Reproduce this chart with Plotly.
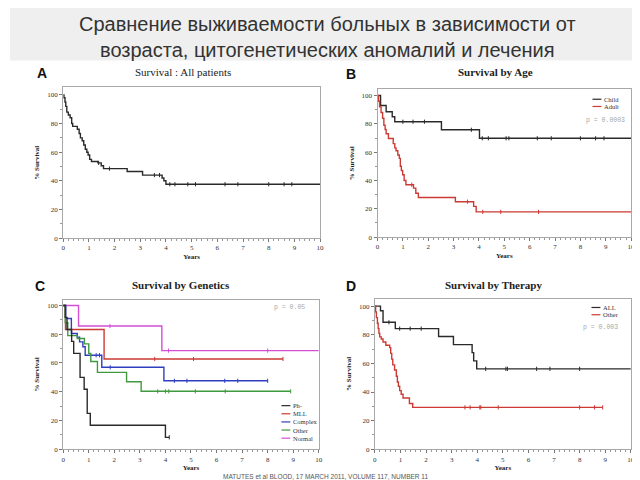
import plotly.graph_objects as go

# ---------------- data ----------------
A_t = [0, 0.03, 0.07, 0.1, 0.14, 0.2, 0.27, 0.33, 0.37, 0.55, 0.62, 0.67, 0.74, 0.8, 0.86, 0.92, 0.97, 1.03, 1.1, 1.35, 1.48, 1.57, 2.49, 3.09, 3.85, 3.92, 4.0, 10]
A_s = [100, 98, 95, 92, 88, 86, 84, 80, 78, 76, 73, 70, 68, 65, 62, 60, 58, 55, 53.5, 52.5, 50.5, 48.5, 46.5, 44, 42, 40, 37.6, 37.6]
A_cens = [1.38, 1.8, 3.55, 3.75, 4.15, 4.35, 4.85, 5.15, 6.3, 6.8, 8.0, 8.6, 8.9]

B_child_t = [0, 0.12, 0.34, 0.58, 0.68, 2.52, 4.02, 10]
B_child_s = [100, 93, 88.5, 85, 81.5, 75.8, 69.8, 69.8]
B_child_cens = [1.0, 1.4, 1.85, 3.7, 4.13, 4.37, 5.07, 5.18, 6.3, 6.85, 8.0, 8.6, 8.93]
B_adult_t = [0, 0.04, 0.08, 0.14, 0.2, 0.25, 0.3, 0.34, 0.43, 0.62, 0.68, 0.73, 0.8, 0.86, 0.9, 0.94, 0.99, 1.05, 1.12, 1.42, 1.51, 1.61, 3.07, 3.79, 3.89, 10]
B_adult_s = [100, 96, 92, 88, 84, 79, 76, 73, 69.6, 66, 63, 61, 58, 55.6, 50, 47, 44, 40, 37, 34.6, 31, 28, 25, 21.7, 17.8, 17.8]
B_adult_cens = [1.35, 3.55, 4.15, 4.86, 6.35]

C_ph_t = [0, 0.08, 0.15, 0.33, 0.41, 0.66, 0.82, 0.94, 1.06, 4.0, 4.15]
C_ph_s = [100, 91.7, 83.3, 75, 66.7, 50, 41.7, 25, 16.7, 8.3, 8.3]
C_ph_cens = [4.15]
C_mll_t = [0, 0.09, 1.6, 8.6]
C_mll_s = [100, 83.3, 62.8, 62.8]
C_mll_cens = [3.58, 5.1, 8.6]
C_cx_t = [0, 0.1, 0.32, 0.55, 0.64, 0.77, 0.86, 1.51, 3.94, 8.0]
C_cx_s = [100, 90.9, 80.5, 78, 74.7, 71.3, 65.4, 57, 47.6, 47.6]
C_cx_cens = [1.29, 1.42, 1.84, 4.35, 4.84, 6.32, 6.83, 8.0]
C_ot_t = [0, 0.08, 0.18, 0.55, 0.83, 1.0, 1.08, 1.34, 2.48, 3.05, 8.9]
C_ot_s = [100, 88, 79, 77, 73.3, 66.7, 61, 53.5, 47, 40.3, 40.3]
C_ot_cens = [3.7, 4.0, 4.13, 5.17, 6.34, 8.9]
C_no_t = [0, 0.6, 3.86, 10]
C_no_s = [100, 85.7, 68.6, 68.6]
C_no_cens = [1.83, 4.12, 8.0]

D_all_t = [0, 0.22, 0.32, 0.8, 2.49, 3.07, 3.8, 3.86, 3.98, 10]
D_all_s = [100, 96.8, 88.7, 84.3, 78.8, 73.1, 67.5, 61.8, 56.2, 56.2]
D_all_cens = [0.55, 0.97, 1.38, 1.81, 4.33, 5.12, 5.18, 6.32, 6.84, 8.0]
D_ot_t = [0, 0.03, 0.06, 0.1, 0.13, 0.16, 0.19, 0.25, 0.32, 0.43, 0.58, 0.62, 0.66, 0.7, 0.77, 0.84, 0.88, 0.92, 0.97, 1.03, 1.1, 1.35, 1.48, 8.9]
D_ot_s = [100, 96, 92, 88, 84.3, 81, 78.5, 77, 75, 72.7, 71, 67, 63, 59, 55.4, 51, 47, 44, 41, 38.5, 35.8, 32, 29.3, 29.3]
D_ot_cens = [3.52, 3.72, 4.1, 4.14, 4.82, 8.0, 8.58, 8.9]

x_ticks = [0, 1, 2, 3, 4, 5, 6, 7, 8, 9, 10]
y_ticks = [0, 20, 40, 60, 80, 100]

# ---------------- helpers ----------------
W, H = 640, 480
BLACK = "#2a2a2a"
RED = "#cc3a34"
BLUE = "#2f3fc0"
GREEN = "#3f9a3f"
MAGENTA = "#d44fd4"


def surv_at(ts, ss, x):
    v = ss[0]
    for t, s in zip(ts, ss):
        if t <= x:
            v = s
    return v


fig = go.Figure()


def add_curve(ts, ss, cens, color, ax, name):
    xa = "x" if ax == 1 else f"x{ax}"
    ya = "y" if ax == 1 else f"y{ax}"
    fig.add_trace(go.Scatter(x=ts, y=ss, mode="lines", line=dict(color=color, width=1.4, shape="hv"),
                             xaxis=xa, yaxis=ya, name=name, showlegend=False, hoverinfo="skip"))
    fig.add_trace(go.Scatter(x=cens, y=[surv_at(ts, ss, c) for c in cens], mode="markers",
                             marker=dict(symbol="line-ns", size=3, line=dict(color=color, width=1)),
                             xaxis=xa, yaxis=ya, showlegend=False, hoverinfo="skip"))


add_curve(A_t, A_s, A_cens, BLACK, 1, "All")
add_curve(B_child_t, B_child_s, B_child_cens, BLACK, 2, "Child")
add_curve(B_adult_t, B_adult_s, B_adult_cens, RED, 2, "Adult")
add_curve(C_no_t, C_no_s, C_no_cens, MAGENTA, 3, "Normal")
add_curve(C_mll_t, C_mll_s, C_mll_cens, RED, 3, "MLL")
add_curve(C_cx_t, C_cx_s, C_cx_cens, BLUE, 3, "Complex")
add_curve(C_ot_t, C_ot_s, C_ot_cens, GREEN, 3, "Other")
add_curve(C_ph_t, C_ph_s, C_ph_cens, BLACK, 3, "Ph-")
add_curve(D_all_t, D_all_s, D_all_cens, BLACK, 4, "ALL")
add_curve(D_ot_t, D_ot_s, D_ot_cens, RED, 4, "Other")

# panel geometry in pixels: (x0, x1, ybottom, ytop, yrange_top)
panels = {
    1: (53.7, 313.0, 232.0, 80.0, 105.3),
    2: (371.0, 627.0, 231.0, 82.0, 104.4),
    3: (53.7, 311.7, 445.0, 294.0, 104.1),
    4: (368.3, 626.7, 445.0, 293.0, 105.3),
}

tickfont = dict(family="Liberation Serif", size=7, color="#333")
titlefont = dict(family="Liberation Serif", size=7, color="#222")
layout_axes = {}
for i, (x0, x1, yb, yt, ytop) in panels.items():
    xk = "xaxis" if i == 1 else f"xaxis{i}"
    yk = "yaxis" if i == 1 else f"yaxis{i}"
    anchor_x = "y" if i == 1 else f"y{i}"
    anchor_y = "x" if i == 1 else f"x{i}"
    layout_axes[xk] = dict(domain=[x0 / W, x1 / W], range=[0, 10], anchor=anchor_x,
                           tickvals=x_ticks, ticktext=[str(v) for v in x_ticks],
                           ticks="outside", ticklen=3, tickcolor="#777", tickfont=tickfont,
                           showline=True, mirror=True, linecolor="#a8a8a8", linewidth=1,
                           showgrid=False, zeroline=False,
                           minor=dict(ticks="outside", ticklen=2, dtick=0.2, tickcolor="#999"),
                           title=dict(text="<b>Years</b>", font=titlefont, standoff=2))
    layout_axes[yk] = dict(domain=[1 - yb / H, 1 - yt / H], range=[0, ytop], anchor=anchor_y,
                           tickvals=y_ticks, ticktext=[str(v) for v in y_ticks],
                           ticks="outside", ticklen=3, tickcolor="#777", tickfont=tickfont,
                           showline=True, mirror=True, linecolor="#a8a8a8", linewidth=1,
                           showgrid=False, zeroline=False,
                           minor=dict(ticks="outside", ticklen=2, dtick=10, tickcolor="#999"),
                           title=dict(text="<b>% Survival</b>", font=titlefont, standoff=6))

annotations = []
shapes = []

# slide title band
shapes.append(dict(type="rect", xref="paper", yref="paper", x0=0, x1=1, y0=1 - 53 / H, y1=1,
                   fillcolor="#efefef", line=dict(width=0), layer="below"))
annotations.append(dict(text="Сравнение выживаемости больных в зависимости от<br>возраста, цитогенетических аномалий и лечения",
                        xref="paper", yref="paper", x=0.5, y=1 - 29.5 / H, showarrow=False,
                        font=dict(family="Liberation Sans", size=20, color="#333"), xanchor="center", yanchor="middle"))

# panel letters and titles
for letter, px, py in [("A", 32, 66), ("B", 344, 67), ("C", 30, 280), ("D", 344, 280)]:
    annotations.append(dict(text=f"<b>{letter}</b>", xref="paper", yref="paper", x=px / W, y=1 - py / H,
                            showarrow=False, font=dict(family="Liberation Sans", size=14, color="#111"),
                            xanchor="center", yanchor="middle"))
for txt, px, py in [("Survival : All patients", 175, 65), ("<b>Survival by Age</b>", 490, 65),
                    ("<b>Survival by Genetics</b>", 173, 279), ("<b>Survival by Therapy</b>", 488, 279)]:
    annotations.append(dict(text=txt, xref="paper", yref="paper", x=px / W, y=1 - py / H,
                            showarrow=False, font=dict(family="Liberation Serif", size=11, color="#222"),
                            xanchor="center", yanchor="middle"))

# in-plot legends (line keys + labels) and p-values
legend_items = [
    (2, [("Child", BLACK), ("Adult", RED)], 588, 92, 7.3),
    (4, [("ALL", BLACK), ("Other", RED)], 587, 302, 7.3),
    (3, [("Ph-", BLACK), ("MLL", RED), ("Complex", BLUE), ("Other", GREEN), ("Normal", MAGENTA)], 274, 401, 8.2),
]
for ax, items, px, py, step in legend_items:
    for k, (lab, col) in enumerate(items):
        yy = 1 - (py + k * step) / H
        shapes.append(dict(type="line", xref="paper", yref="paper", x0=px / W, x1=(px + 9) / W,
                           y0=yy, y1=yy, line=dict(color=col, width=1.2)))
        annotations.append(dict(text=lab, xref="paper", yref="paper", x=(px + 10) / W, y=yy,
                                showarrow=False, font=dict(family="Liberation Serif", size=6.5, color="#333"),
                                xanchor="left", yanchor="middle"))

for txt, px, py in [("p = 0.0003", 601, 113), ("p = 0.003", 596, 322), ("p = 0.05", 282, 302)]:
    annotations.append(dict(text=txt, xref="paper", yref="paper", x=px / W, y=1 - py / H, showarrow=False,
                            font=dict(family="Liberation Mono", size=6.5, color="#a6a6a6"),
                            xanchor="center", yanchor="middle"))

annotations.append(dict(text="MATUTES et al BLOOD, 17 MARCH 2011, VOLUME 117, NUMBER 11", xref="paper", yref="paper",
                        x=318 / W, y=1 - 472 / H, showarrow=False,
                        font=dict(family="Liberation Sans", size=6.5, color="#555"),
                        xanchor="center", yanchor="middle"))

fig.update_layout(width=W, height=H, margin=dict(l=0, r=0, t=0, b=0), paper_bgcolor="white",
                  plot_bgcolor="white", showlegend=False, annotations=annotations, shapes=shapes,
                  **layout_axes)

fig.write_html("out.html")
